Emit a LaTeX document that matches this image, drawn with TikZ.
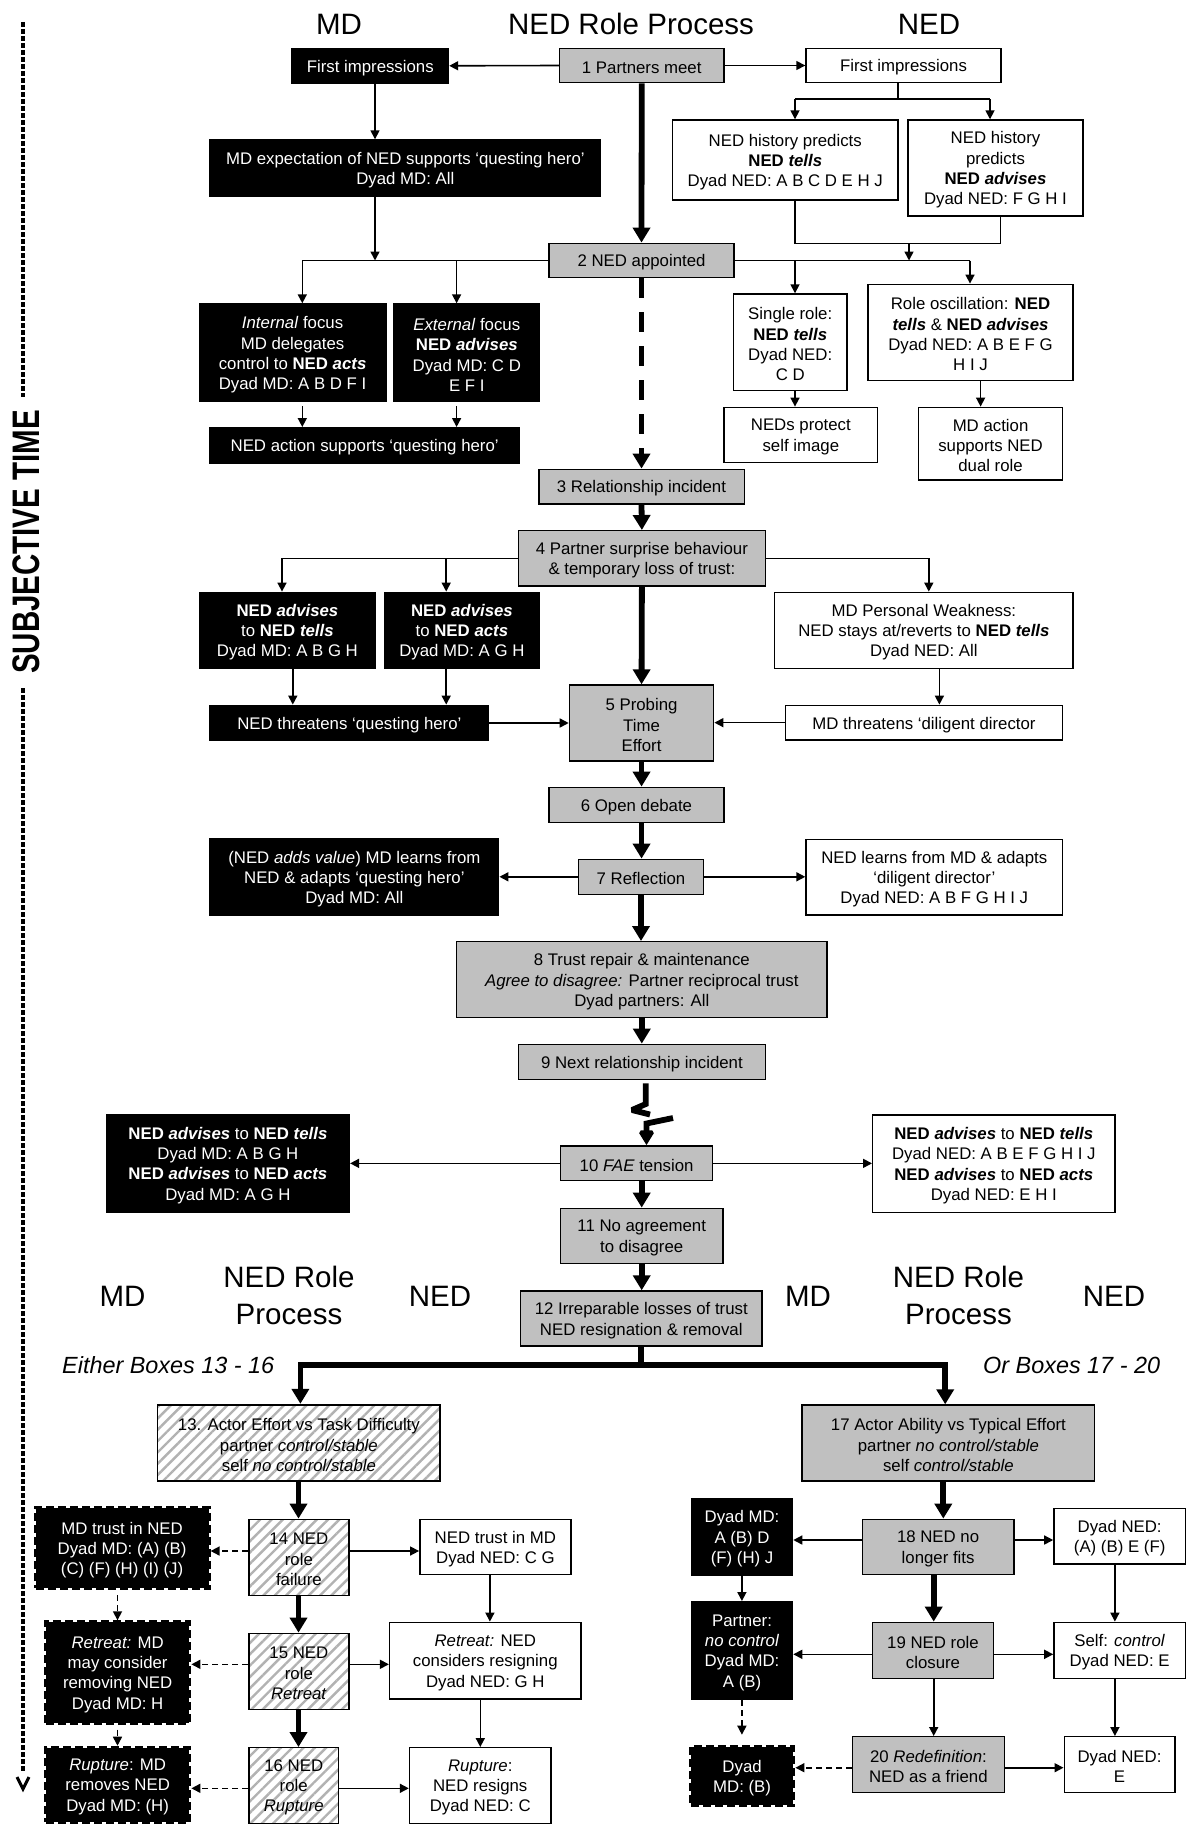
\documentclass[tikz,border=0pt]{standalone}
\usepackage{fontspec}
\setmainfont{Liberation Sans}
\usetikzlibrary{arrows.meta,patterns.meta}
\definecolor{boxgray}{HTML}{C0C0C0}
\definecolor{hatchgray}{HTML}{B2B2B2}
\newcommand{\bodyfont}{\fontsize{16.8}{20.3}\selectfont}
\newcommand{\titlefont}{\fontsize{29.5}{37}\selectfont}
% \boxat{style}{name}{x1}{y1}{x2}{y2}{text}: box given by its corners,
% its text set slightly below the geometric centre so the capitals sit centred
\newcommand{\boxat}[7]{%
  \node[#1, minimum width={(#5)-(#3)}, minimum height={(#6)-(#4)}]
    (#2) at ({((#3)+(#5))/2},{((#4)+(#6))/2}) {};
  \node[btxt, #1 txt] at ([yshift=-2pt]#2.center) {#7};}

\begin{document}
\begin{tikzpicture}[x=1pt,y=-1pt,
  base/.style={draw=black, line width=1.4pt, inner sep=0pt},
  btxt/.style={inner sep=0pt, align=center, font=\bodyfont},
  wbox/.style={base, fill=white},
  gbox/.style={base, fill=boxgray},
  kbox/.style={base, fill=black},
  hbox/.style={base, pattern={Lines[angle=45,distance=8pt,line width=2.4pt]}, pattern color=hatchgray},
  dkbox/.style={base, fill=black, line width=4pt, dash pattern=on 8pt off 4pt},
  wbox txt/.style={},
  gbox txt/.style={},
  hbox txt/.style={},
  kbox txt/.style={text=white},
  dkbox txt/.style={text=white},
  ln/.style={line width=1.6pt},
  arr/.style={line width=1.6pt, -{Triangle[width=9pt,length=9pt]}},
  darr/.style={arr, dash pattern=on 6pt off 4pt},
  thk/.style={line width=5.8pt},
  tarr/.style={line width=5.8pt, -{Triangle[width=17pt,length=15pt]}},
  ttl/.style={font=\titlefont, align=center}
]
\fill[white] (0,0) rectangle (1198,1825);
\useasboundingbox (0,0) rectangle (1198,1825);

% ---------- titles ----------
\node[ttl] (tMD) at (339,24) {MD};
\node[ttl] (tNRP) at (631,24) {NED Role Process};
\node[ttl] (tNED) at (929,24) {NED};
\node[ttl] (bMD1) at (122.5,1296.7) {MD};
\node[ttl] (bNRP1) at (289,1295) {NED Role\\Process};
\node[ttl] (bNED1) at (440,1296.7) {NED};
\node[ttl] (bMD2) at (808,1296.7) {MD};
\node[ttl] (bNRP2) at (958.5,1295) {NED Role\\Process};
\node[ttl] (bNED2) at (1114,1296.7) {NED};
\node[font=\fontsize{23.4}{28}\selectfont\itshape, anchor=base west, inner sep=0pt] (either) at (62,1373) {Either Boxes 13 - 16};
\node[font=\fontsize{23.4}{28}\selectfont\itshape, anchor=base west, inner sep=0pt] (orb) at (983,1373) {Or Boxes 17 - 20};

% ---------- time axis ----------
\node[rotate=90, inner sep=0pt, font=\fontsize{29.5}{30}\selectfont\bfseries] (subj) at (26,542) {\scalebox{1}[1.3]{SUBJECTIVE TIME}};
\draw[line width=3.6pt, dash pattern=on 5pt off 2pt] (23,22) -- (23,397);
\draw[line width=3.6pt, dash pattern=on 5pt off 2pt] (23,688) -- (23,1772);
\draw[line width=3pt] (17,1777) -- (23,1789) -- (29,1777);

% ---------- boxes: top section ----------
\boxat{kbox}{mdfi}{292}{48.3}{448.5}{83.3}{First impressions}
\boxat{gbox}{n1}{559.5}{48.3}{724}{82.7}{1 Partners meet}
\boxat{wbox}{nedfi}{806}{48.3}{1001}{82.7}{First impressions}
\boxat{kbox}{mdexp}{210}{140}{600.7}{196.7}{MD expectation of NED supports ‘questing hero’\\Dyad MD: All}
\boxat{wbox}{histT}{672.5}{120}{898}{200}{NED history predicts\\\textbf{NED \textit{tells}}\\Dyad NED: A B C D E H J}
\boxat{wbox}{histA}{908}{120}{1083}{216}{NED history\\predicts\\\textbf{NED \textit{advises}}\\Dyad NED: F G H I}
\boxat{gbox}{n2}{549}{243.3}{734}{277.7}{2 NED appointed}
\boxat{kbox}{intf}{199.4}{304}{385.8}{401.7}{\textit{Internal} focus\\MD delegates\\control to \textbf{NED \textit{acts}}\\Dyad MD: A B D F I}
\boxat{kbox}{extf}{394}{304}{539.6}{401.7}{\textit{External} focus\\\textbf{NED \textit{advises}}\\Dyad MD: C D\\E F I}
\boxat{wbox}{single}{733.5}{294}{847}{390.7}{Single role:\\\textbf{NED \textit{tells}}\\Dyad NED:\\C D}
\boxat{wbox}{osc}{868}{284.3}{1073}{380.3}{Role oscillation: \textbf{NED}\\\textbf{\textit{tells}} \& \textbf{NED \textit{advises}}\\Dyad NED: A B E F G\\H I J}
\boxat{kbox}{nedact}{210}{427.7}{519.3}{463.3}{NED action supports ‘questing hero’}
\boxat{wbox}{protect}{724}{407.3}{877.7}{462.7}{NEDs protect\\self image}
\boxat{wbox}{mdact}{918.5}{407.3}{1062.6}{480}{MD action\\supports NED\\dual role}

% ---------- boxes: middle section ----------
\boxat{gbox}{n3}{538.8}{469.3}{744.2}{504}{3 Relationship incident}
\boxat{gbox}{n4}{518.6}{530.7}{765.2}{586}{4 Partner surprise behaviour\\\& temporary loss of trust:}
\boxat{kbox}{advT}{199.4}{592.3}{375.4}{668.3}{\textbf{NED \textit{advises}}\\to \textbf{NED \textit{tells}}\\Dyad MD: A B G H}
\boxat{kbox}{advA}{384.2}{592.3}{539.6}{668.3}{\textbf{NED \textit{advises}}\\to \textbf{NED \textit{acts}}\\Dyad MD: A G H}
\boxat{wbox}{weak}{774.7}{592.3}{1073}{668.3}{MD Personal Weakness:\\NED stays at/reverts to \textbf{NED \textit{tells}}\\Dyad NED: All}
\boxat{kbox}{nthr}{210}{705.3}{488.7}{740.7}{NED threatens ‘questing hero’}
\boxat{gbox}{n5}{569.4}{685}{713.7}{761}{5 Probing\\Time\\Effort}
\boxat{wbox}{mthr}{785.4}{705.3}{1062.6}{740}{MD threatens ‘diligent director}
\boxat{gbox}{n6}{549}{787.3}{724}{822.3}{6 Open debate}
\boxat{kbox}{mdlearn}{210}{839}{498.7}{915}{(NED \textit{adds value}) MD learns from\\NED \& adapts ‘questing hero’\\Dyad MD: All}
\boxat{gbox}{n7}{578.6}{859.3}{703.4}{894.3}{7 Reflection}
\boxat{wbox}{nedlearn}{806}{839.3}{1062.6}{915}{NED learns from MD \& adapts\\‘diligent director’\\Dyad NED: A B F G H I J}
\boxat{gbox}{n8}{456.6}{941.7}{827}{1017.7}{8 Trust repair \& maintenance\\\textit{Agree to disagree:} Partner reciprocal trust\\Dyad partners: All}
\boxat{gbox}{n9}{518.6}{1044.3}{765.2}{1079.3}{9 Next relationship incident}
\boxat{kbox}{l10}{106.4}{1114.3}{349.4}{1212.3}{\textbf{NED \textit{advises}} to \textbf{NED \textit{tells}}\\Dyad MD: A B G H\\\textbf{NED \textit{advises}} to \textbf{NED \textit{acts}}\\Dyad MD: A G H}
\boxat{gbox}{n10}{560.6}{1146}{712.5}{1180.7}{10 \textit{FAE} tension}
\boxat{wbox}{r10}{872.7}{1115}{1114.9}{1212.3}{\textbf{NED \textit{advises}} to \textbf{NED \textit{tells}}\\Dyad NED: A B E F G H I J\\\textbf{NED \textit{advises}} to \textbf{NED \textit{acts}}\\Dyad NED: E H I}
\boxat{gbox}{n11}{560.6}{1208.3}{722.8}{1263.3}{11 No agreement\\to disagree}
\boxat{gbox}{n12}{520.5}{1291}{762}{1346}{12 Irreparable losses of trust\\NED resignation \& removal}

% ---------- boxes: branch 13-16 ----------
\boxat{hbox}{n13}{157.7}{1405}{440.1}{1481}{13. Actor Effort vs Task Difficulty\\partner \textit{control/stable}\\self \textit{no control/stable}}
\boxat{hbox}{n14}{248.8}{1519.3}{349}{1595.7}{14 NED\\role\\failure}
\boxat{dkbox}{mdtrust}{35.6}{1507.7}{208.6}{1588.3}{MD trust in NED\\Dyad MD: (A) (B)\\(C) (F) (H) (I) (J)}
\boxat{wbox}{nedtrust}{419.8}{1519.3}{571}{1574.3}{NED trust in MD\\Dyad NED: C G}
\boxat{hbox}{n15}{248.8}{1633.3}{349}{1709.3}{15 NED\\role\\\textit{Retreat}}
\boxat{dkbox}{retmd}{45.9}{1622.3}{189.4}{1722.7}{\textit{Retreat:} MD\\may consider\\removing NED\\Dyad MD: H}
\boxat{wbox}{retned}{389.6}{1622.3}{581}{1699}{\textit{Retreat:} NED\\considers resigning\\Dyad NED: G H}
\boxat{hbox}{n16}{248.8}{1747.7}{338.7}{1823.3}{16 NED\\role\\\textit{Rupture}}
\boxat{dkbox}{rupmd}{45.9}{1747.7}{189.4}{1822}{\textit{Rupture}: MD\\removes NED\\Dyad MD: (H)}
\boxat{wbox}{rupned}{409.5}{1747.7}{551}{1823.3}{\textit{Rupture}:\\NED resigns\\Dyad NED: C}

% ---------- boxes: branch 17-20 ----------
\boxat{gbox}{n17}{802.1}{1405}{1094.7}{1481}{17 Actor Ability vs Typical Effort\\partner \textit{no control/stable}\\self \textit{control/stable}}
\boxat{gbox}{n18}{862.4}{1519.3}{1013.8}{1574.3}{18 NED no\\longer fits}
\boxat{kbox}{dmd18}{691.5}{1498.3}{792.6}{1575}{Dyad MD:\\A (B) D\\(F) (H) J}
\boxat{wbox}{dned18}{1053.9}{1508.3}{1185.4}{1564}{Dyad NED:\\(A) (B) E (F)}
\boxat{kbox}{partner}{691.5}{1601.7}{792.6}{1699.3}{Partner:\\\textit{no control}\\Dyad MD:\\A (B)}
\boxat{gbox}{n19}{872.3}{1622.3}{993.6}{1678.3}{19 NED role\\closure}
\boxat{wbox}{self}{1053.9}{1622.3}{1185.4}{1678.3}{Self: \textit{control}\\Dyad NED: E}
\boxat{gbox}{n20}{852.5}{1736.7}{1004.3}{1792.7}{20 \textit{Redefinition}:\\NED as a friend}
\boxat{dkbox}{dmdB}{690.8}{1746.7}{793.4}{1805}{Dyad\\MD: (B)}
\boxat{wbox}{dnedE}{1064.2}{1736.7}{1174.8}{1792.7}{Dyad NED:\\E}

% ---------- helper columns and rows for connectors ----------
\coordinate (kA) at (375,0);
\coordinate (kB) at (302.3,0);
\coordinate (kC) at (456.6,0);
\coordinate (kD) at (795,0);
\coordinate (kE) at (909,0);
\coordinate (kF) at (1000.5,0);
\coordinate (kG) at (970,0);
\coordinate (kH) at (990,0);
\coordinate (kI) at (898,0);
\coordinate (kJ) at (980.6,0);
\coordinate (kK) at (282,0);
\coordinate (kL) at (446.2,0);
\coordinate (kM) at (928.8,0);
\coordinate (kN) at (292.8,0);
\coordinate (kO) at (939.4,0);
\coordinate (kP) at (298.5,0);
\coordinate (kQ) at (117.5,0);
\coordinate (kR) at (489.9,0);
\coordinate (kS) at (480.3,0);
\coordinate (kT) at (943.3,0);
\coordinate (kU) at (933.7,0);
\coordinate (kV) at (741.9,0);
\coordinate (kW) at (1114.9,0);
\coordinate (yA) at (0,99.3);
\coordinate (yB) at (0,243.3);
\coordinate (y14) at (0,1551);
\coordinate (y15) at (0,1664.3);
\coordinate (y16) at (0,1788.3);
\coordinate (y18) at (0,1540);
\coordinate (y19) at (0,1654.3);
\coordinate (y20) at (0,1767.7);

% ---------- connectors: top ----------
\draw[arr] (n1.west) -- (mdfi.east);
\draw[arr] (n1.east) -- (nedfi.west);
\draw[tarr] (n1.south) -- (n2.north);
\draw[arr] (mdfi.south -| kA) -- (mdexp.north -| kA);
\draw[arr] (mdexp.south -| kA) -- (n2.west -| kA);
\draw[ln] (n2.west) -- (n2.west -| kB);
\draw[arr] (n2.west -| kB) -- (intf.north -| kB);
\draw[arr] (n2.west -| kC) -- (extf.north -| kC);
\draw[ln] (nedfi.south -| kI) -- (yA -| kI);
\draw[ln] (yA -| kD) -- (yA -| kH);
\draw[arr] (yA -| kD) -- (histT.north -| kD);
\draw[arr] (yA -| kH) -- (histA.north -| kH);
\draw[ln] (histT.south -| kD) -- (yB -| kD) -- (yB -| kF) -- (histA.south -| kF);
\draw[arr] (yB -| kE) -- (n2.east -| kE);
\draw[ln] (n2.east) -- (n2.east -| kG);
\draw[arr] (n2.east -| kD) -- (single.north -| kD);
\draw[arr] (n2.east -| kG) -- (osc.north -| kG);
\draw[arr, shorten <=4pt] (intf.south -| kB) -- (nedact.north -| kB);
\draw[arr, shorten <=4pt] (extf.south -| kC) -- (nedact.north -| kC);
\draw[arr] (single.south -| kD) -- (protect.north -| kD);
\draw[arr] (osc.south -| kJ) -- (mdact.north -| kJ);
\draw[tarr, dash pattern=on 20pt off 14pt] (n2.south) -- (n3.north);

% ---------- connectors: middle ----------
\draw[tarr] (n3.south) -- (n4.north);
\draw[ln] (n4.west) -- (n4.west -| kK);
\draw[arr] (n4.west -| kK) -- (advT.north -| kK);
\draw[arr] (n4.west -| kL) -- (advA.north -| kL);
\draw[arr] (n4.east) -- (n4.east -| kM) -- (weak.north -| kM);
\draw[arr] (advT.south -| kN) -- (nthr.north -| kN);
\draw[arr] (advA.south -| kL) -- (nthr.north -| kL);
\draw[arr] (weak.south -| kO) -- (mthr.north -| kO);
\draw[tarr] (n4.south) -- (n5.north);
\draw[arr] (nthr.east) -- (nthr.east -| n5.west);
\draw[arr] (mthr.west) -- (mthr.west -| n5.east);
\draw[tarr] (n5.south) -- (n5.south |- n6.north);
\draw[tarr] (n5.south |- n6.south) -- (n5.south |- n7.north);
\draw[arr] (n7.west) -- (n7.west -| mdlearn.east);
\draw[arr] (n7.east) -- (n7.east -| nedlearn.west);
\draw[tarr] (n7.south) -- (n7.south |- n8.north);
\draw[tarr] (n8.south) -- (n8.south |- n9.north);
% broken (lightning) link from 9 to 10
\draw[thk, line join=miter, miter limit=2] (645.8,1083.3) -- (645.8,1104) -- (632,1110) -- (650,1114.5);
\coordinate (zz) at (646.5,1123.5);
\draw[tarr, line join=miter, miter limit=2] (673,1118) -- (zz) -- (zz |- n10.north);
\draw[arr] (n10.west) -- (n10.west -| l10.east);
\draw[arr] (n10.east) -- (n10.east -| r10.west);
\draw[tarr] (n11.north |- n10.south) -- (n11.north);
\draw[tarr] (n11.south) -- (n11.south |- n12.north);

% ---------- split into the two outcomes ----------
\coordinate (tL) at (300.4,1365);
\coordinate (tR) at (945.2,1365);
\draw[thk] (n12.south) -- (n12.south |- tL);
\draw[tarr, line join=miter] (tR) -- (tL) -- (tL |- n13.north);
\draw[tarr, line join=miter] (tL) -- (tR) -- (tR |- n17.north);

% ---------- connectors: 13-16 ----------
\draw[tarr] (n13.south -| kP) -- (n14.north -| kP);
\draw[tarr] (n14.south -| kP) -- (n15.north -| kP);
\draw[tarr] (n15.south -| kP) -- (n16.north -| kP);
\draw[darr] (n14.west |- y14) -- (mdtrust.east |- y14);
\draw[arr] (n14.east |- y14) -- (nedtrust.west |- y14);
\draw[darr] (n15.west |- y15) -- (retmd.east |- y15);
\draw[arr] (n15.east |- y15) -- (retned.west |- y15);
\draw[darr] (n16.west |- y16) -- (rupmd.east |- y16);
\draw[arr] (n16.east |- y16) -- (rupned.west |- y16);
\draw[darr, shorten <=5pt] (mdtrust.south -| kQ) -- (retmd.north -| kQ);
\draw[darr, shorten <=5pt] (retmd.south -| kQ) -- (rupmd.north -| kQ);
\draw[arr] (nedtrust.south -| kR) -- (retned.north -| kR);
\draw[arr] (retned.south -| kS) -- (rupned.north -| kS);

% ---------- connectors: 17-20 ----------
\draw[tarr] (n17.south -| kT) -- (n18.north -| kT);
\draw[tarr] (n18.south -| kU) -- (n19.north -| kU);
\draw[arr] (n19.south -| kU) -- (n20.north -| kU);
\draw[arr] (n18.west |- y18) -- (dmd18.east |- y18);
\draw[arr] (n18.east |- y18) -- (dned18.west |- y18);
\draw[arr] (n19.west |- y19) -- (partner.east |- y19);
\draw[arr] (n19.east |- y19) -- (self.west |- y19);
\draw[arr] (n20.east |- y20) -- (dnedE.west |- y20);
\draw[darr] (n20.west |- y20) -- (dmdB.east |- y20);
\draw[arr] (dmd18.south -| kV) -- (partner.north -| kV);
\draw[darr, shorten >=10pt] (partner.south -| kV) -- (dmdB.north -| kV);
\draw[arr] (dned18.south -| kW) -- (self.north -| kW);
\draw[arr] (self.south -| kW) -- (dnedE.north -| kW);
\end{tikzpicture}
\end{document}
